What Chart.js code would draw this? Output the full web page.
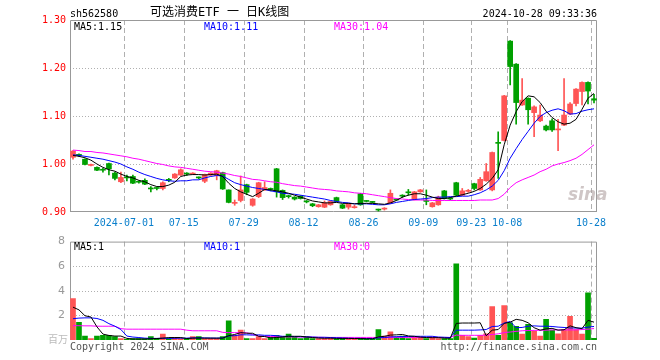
<!DOCTYPE html>
<html>
<head>
<meta charset="utf-8">
<script src="https://cdn.jsdelivr.net/npm/chart.js@4.4.1/dist/chart.umd.min.js"></script>
<style>
body{margin:0;background:#fff;}
#wrap{position:relative;width:660px;height:360px;overflow:hidden;background:#fff;}
canvas{position:absolute;left:0;}
.t{position:absolute;white-space:nowrap;font:10px "DejaVu Sans Mono",monospace;line-height:10px;color:#000;}
</style>
</head>
<body>
<div id="wrap">
<canvas id="k" width="660" height="230" style="top:0"></canvas>
<canvas id="v" width="660" height="130" style="top:230px"></canvas>
<div class="t" style="left:70px;top:8.5px">sh562580</div>
<div class="t" style="left:150px;top:6px;font-size:12px;line-height:12px;font-family:'DejaVu Sans Mono','Noto Sans CJK SC',sans-serif">可选消费ETF 一 日K线图</div>
<div class="t" style="right:63px;top:8.5px">2024-10-28 09:33:36</div>
<div class="t" style="left:74px;top:21.5px">MA5:1.15</div>
<div class="t" style="left:204px;top:21.5px;color:#0000ff">MA10:1.11</div>
<div class="t" style="left:334px;top:21.5px;color:#ff00ff">MA30:1.04</div>
<div class="t" style="left:74px;top:241.5px">MA5:1</div>
<div class="t" style="left:204px;top:241.5px;color:#0000ff">MA10:1</div>
<div class="t" style="left:334px;top:241.5px;color:#ff00ff">MA30:0</div>
<div class="t" style="left:48px;top:334px;color:#bbb;font-family:'Noto Sans CJK SC',sans-serif;font-size:10px">百万</div>
<div class="t" style="left:70px;top:341.5px;color:#555">Copyright 2024 SINA.COM</div>
<div class="t" style="right:63px;top:341.5px;color:#555">http://finance.sina.com.cn</div>
<div class="t" style="left:568px;top:186px;font:italic bold 17px 'DejaVu Sans',sans-serif;line-height:17px;color:rgba(175,160,160,0.6)">sina</div>
</div>
<script>
// trading days shown, oldest first
const dates = [
  '2024-06-18','2024-06-19','2024-06-20','2024-06-21','2024-06-24','2024-06-25','2024-06-26','2024-06-27','2024-06-28',
  '2024-07-01','2024-07-02','2024-07-03','2024-07-04','2024-07-05','2024-07-08','2024-07-09','2024-07-10','2024-07-11','2024-07-12',
  '2024-07-15','2024-07-16','2024-07-17','2024-07-18','2024-07-19','2024-07-22','2024-07-23','2024-07-24','2024-07-25','2024-07-26',
  '2024-07-29','2024-07-30','2024-07-31','2024-08-01','2024-08-02','2024-08-05','2024-08-06','2024-08-07','2024-08-08','2024-08-09',
  '2024-08-12','2024-08-13','2024-08-14','2024-08-15','2024-08-16','2024-08-19','2024-08-20','2024-08-21','2024-08-22','2024-08-23',
  '2024-08-26','2024-08-27','2024-08-28','2024-08-29','2024-08-30','2024-09-02','2024-09-03','2024-09-04','2024-09-05','2024-09-06',
  '2024-09-09','2024-09-10','2024-09-11','2024-09-12','2024-09-13','2024-09-18','2024-09-19','2024-09-20',
  '2024-09-23','2024-09-24','2024-09-25','2024-09-26','2024-09-27','2024-09-30',
  '2024-10-08','2024-10-09','2024-10-10','2024-10-11','2024-10-14','2024-10-15','2024-10-16','2024-10-17','2024-10-18',
  '2024-10-21','2024-10-22','2024-10-23','2024-10-24','2024-10-25','2024-10-28'
];

const open = [
  1.014,1.020,1.010,0.997,0.993,0.988,1.001,0.981,0.963,0.972,
  0.974,0.963,0.966,0.949,0.950,0.949,0.967,0.971,0.977,0.980,
  0.979,0.972,0.964,0.977,0.976,0.982,0.946,0.918,0.924,0.957,
  0.914,0.932,0.946,0.948,0.990,0.945,0.933,0.931,0.933,0.922,
  0.917,0.911,0.910,0.915,0.930,0.915,0.910,0.909,0.938,0.923,
  0.921,0.905,0.906,0.919,0.926,0.934,0.941,0.926,0.942,0.923,
  0.911,0.915,0.944,0.928,0.961,0.935,0.943,0.959,0.946,0.965,
  0.946,1.044,1.049,1.256,1.208,1.123,1.137,1.107,1.090,1.079,
  1.090,1.071,1.081,1.104,1.126,1.151,1.170,1.136
];
const close = [
  1.027,1.018,0.999,0.999,0.987,0.987,0.990,0.970,0.972,0.971,
  0.960,0.962,0.958,0.948,0.949,0.961,0.966,0.979,0.988,0.979,
  0.980,0.971,0.978,0.981,0.986,0.948,0.920,0.920,0.946,0.941,
  0.927,0.961,0.951,0.947,0.942,0.930,0.932,0.927,0.928,0.921,
  0.913,0.915,0.919,0.922,0.922,0.908,0.917,0.910,0.915,0.922,
  0.920,0.904,0.908,0.939,0.925,0.933,0.940,0.942,0.946,0.922,
  0.919,0.931,0.928,0.927,0.935,0.944,0.944,0.949,0.968,0.984,
  1.024,1.043,1.142,1.203,1.128,1.133,1.113,1.119,1.102,1.071,
  1.071,1.073,1.102,1.125,1.156,1.170,1.152,1.133
];
const high = [
  1.028,1.021,1.011,1.000,0.994,0.991,1.002,0.983,0.983,0.977,
  0.977,0.965,0.969,0.953,0.951,0.963,0.970,0.980,0.990,0.982,
  0.982,0.973,0.979,0.982,0.987,0.983,0.946,0.925,0.975,0.958,
  0.928,0.962,0.963,0.950,0.991,0.946,0.935,0.932,0.934,0.924,
  0.918,0.916,0.923,0.923,0.931,0.916,0.918,0.914,0.939,0.924,
  0.922,0.906,0.909,0.946,0.927,0.936,0.947,0.943,0.947,0.946,
  0.920,0.933,0.945,0.930,0.962,0.949,0.947,0.960,0.972,1.001,
  1.025,1.067,1.143,1.257,1.209,1.178,1.138,1.121,1.123,1.081,
  1.094,1.093,1.178,1.128,1.157,1.171,1.171,1.145
];
const low = [
  1.010,1.016,0.998,0.996,0.986,0.983,0.977,0.967,0.961,0.965,
  0.959,0.960,0.957,0.942,0.946,0.946,0.963,0.970,0.976,0.976,
  0.979,0.969,0.961,0.976,0.967,0.947,0.919,0.914,0.921,0.936,
  0.912,0.930,0.945,0.944,0.931,0.926,0.929,0.925,0.927,0.919,
  0.911,0.910,0.909,0.914,0.921,0.907,0.906,0.908,0.914,0.921,
  0.919,0.902,0.904,0.918,0.924,0.930,0.935,0.925,0.941,0.915,
  0.910,0.914,0.927,0.925,0.934,0.934,0.941,0.946,0.945,0.964,
  0.944,0.970,1.048,1.165,1.083,1.122,1.083,1.057,1.088,1.069,
  1.068,1.028,1.080,1.103,1.121,1.123,1.125,1.127
];

// moving average lines
const ma5 = [
  1.018,1.016,1.013,1.008,1.000,0.993,0.988,0.985,0.979,0.974,
  0.971,0.966,0.963,0.957,0.953,0.953,0.956,0.962,0.974,0.977,
  0.978,0.978,0.977,0.978,0.979,0.974,0.960,0.949,0.942,0.937,
  0.932,0.939,0.947,0.946,0.944,0.942,0.939,0.935,0.931,0.927,
  0.923,0.921,0.919,0.919,0.920,0.918,0.918,0.917,0.918,0.918,
  0.918,0.917,0.916,0.919,0.924,0.931,0.935,0.938,0.938,0.935,
  0.931,0.928,0.928,0.930,0.933,0.936,0.939,0.943,0.949,0.958,
  0.970,0.988,1.040,1.081,1.109,1.130,1.142,1.140,1.128,1.110,
  1.097,1.088,1.083,1.085,1.093,1.114,1.137,1.147
];
const ma10 = [
  1.019,1.018,1.016,1.014,1.012,1.010,1.007,1.004,1.000,0.994,
  0.989,0.983,0.978,0.974,0.970,0.967,0.965,0.964,0.965,0.965,
  0.967,0.967,0.971,0.974,0.976,0.975,0.968,0.961,0.957,0.954,
  0.951,0.949,0.947,0.944,0.942,0.939,0.938,0.937,0.935,0.933,
  0.931,0.929,0.927,0.924,0.922,0.920,0.919,0.917,0.917,0.917,
  0.916,0.915,0.915,0.917,0.920,0.922,0.924,0.926,0.927,0.928,
  0.930,0.931,0.931,0.932,0.932,0.933,0.933,0.936,0.940,0.946,
  0.954,0.966,0.986,1.012,1.032,1.051,1.068,1.085,1.099,1.107,
  1.112,1.115,1.111,1.104,1.105,1.110,1.113,1.115
];
const ma30 = [
  1.029,1.028,1.026,1.026,1.024,1.023,1.021,1.019,1.017,1.015,
  1.012,1.010,1.007,1.004,1.001,0.999,0.996,0.994,0.993,0.991,
  0.989,0.987,0.985,0.984,0.983,0.981,0.979,0.976,0.974,0.971,
  0.968,0.967,0.965,0.963,0.962,0.959,0.957,0.955,0.954,0.952,
  0.950,0.948,0.947,0.946,0.944,0.943,0.942,0.940,0.939,0.938,
  0.936,0.934,0.932,0.930,0.928,0.927,0.926,0.925,0.925,0.925,
  0.924,0.924,0.924,0.924,0.924,0.924,0.924,0.924,0.925,0.925,
  0.925,0.928,0.937,0.951,0.961,0.967,0.972,0.977,0.984,0.989,
  0.996,1.000,1.003,1.007,1.012,1.020,1.030,1.040
];

const volume = [
  3.36,1.44,0.32,0.11,0.32,0.37,0.37,0.27,0.11,0.05,
  0.11,0.11,0.11,0.27,0.11,0.48,0.11,0.20,0.11,0.11,
  0.27,0.27,0.11,0.11,0.11,0.27,1.55,0.37,0.80,0.11,
  0.11,0.27,0.11,0.24,0.37,0.27,0.48,0.24,0.11,0.24,
  0.11,0.11,0.11,0.20,0.10,0.15,0.10,0.08,0.15,0.08,
  0.08,0.85,0.32,0.67,0.24,0.32,0.11,0.24,0.24,0.11,
  0.24,0.11,0.11,0.11,6.20,0.37,0.27,0.15,0.37,0.50,
  2.72,0.37,2.80,1.39,1.12,0.48,1.28,0.72,0.32,1.68,
  0.80,0.51,0.85,1.92,0.85,0.48,3.84,0.13
];
const volMa5 = [
  2.67,2.45,1.97,1.87,1.07,0.48,0.37,0.32,0.32,0.13,
  0.08,0.08,0.08,0.10,0.12,0.15,0.20,0.20,0.20,0.12,
  0.15,0.16,0.15,0.15,0.15,0.15,0.35,0.45,0.60,0.55,
  0.55,0.30,0.28,0.17,0.20,0.25,0.30,0.30,0.30,0.25,
  0.20,0.16,0.14,0.15,0.13,0.13,0.13,0.12,0.12,0.10,
  0.10,0.25,0.30,0.40,0.42,0.45,0.33,0.30,0.23,0.20,
  0.19,0.19,0.16,0.14,1.35,1.38,1.38,1.38,1.40,0.35,
  0.80,0.85,1.35,1.45,1.68,1.60,1.40,1.00,0.80,0.90,
  0.95,0.80,0.83,1.15,1.00,0.92,1.60,1.45
];
const volMa10 = [
  1.73,1.78,1.80,1.80,1.75,1.60,1.33,1.12,0.85,0.32,
  0.24,0.20,0.15,0.13,0.13,0.14,0.13,0.14,0.15,0.15,
  0.17,0.18,0.17,0.16,0.15,0.17,0.33,0.35,0.42,0.42,
  0.40,0.42,0.38,0.38,0.35,0.30,0.30,0.28,0.27,0.26,
  0.24,0.22,0.22,0.20,0.18,0.16,0.14,0.13,0.13,0.12,
  0.11,0.18,0.20,0.25,0.27,0.28,0.28,0.30,0.30,0.30,
  0.30,0.24,0.22,0.20,0.80,0.80,0.80,0.80,0.82,0.85,
  1.10,1.12,1.38,1.50,1.00,1.02,1.12,1.15,1.12,1.12,
  1.10,1.05,1.02,0.98,0.97,0.96,1.05,1.10
];
const volMa30 = [
  1.17,1.16,1.15,1.15,1.12,1.12,1.12,1.12,0.92,0.88,
  0.88,0.88,0.88,0.88,0.88,0.88,0.88,0.88,0.88,0.80,
  0.75,0.75,0.75,0.75,0.75,0.62,0.60,0.60,0.59,0.59,
  0.45,0.32,0.30,0.28,0.27,0.26,0.25,0.25,0.24,0.24,
  0.23,0.22,0.21,0.21,0.21,0.21,0.21,0.21,0.21,0.21,
  0.21,0.21,0.21,0.21,0.21,0.21,0.21,0.21,0.21,0.21,
  0.21,0.21,0.21,0.21,0.40,0.38,0.38,0.38,0.38,0.40,
  0.45,0.50,0.60,0.65,0.70,0.75,0.77,0.78,0.79,0.80,
  0.82,0.82,0.82,0.82,0.82,0.85,0.88,0.93
];

const tickDates = ['2024-07-01','2024-07-15','2024-07-29','2024-08-12','2024-08-26','2024-09-09','2024-09-23','2024-10-08','2024-10-28'];
const priceTicks = [0.9, 1.0, 1.1, 1.2, 1.3];
const volTicks = [0, 2, 4, 6, 8];

const UP = '#ff5555', DOWN = '#00a000';
const colors = close.map((c, i) => c >= open[i] ? UP : DOWN);
const tickIdx = tickDates.map(d => dates.indexOf(d));

// dotted / dashed grid and grey frame, drawn under the marks
const sinaGrid = {
  id: 'sinaGrid',
  beforeDatasetsDraw(chart, args, opts) {
    const ctx = chart.ctx, a = chart.chartArea;
    const x = chart.scales.x, y = chart.scales.y;
    const half = a.width / dates.length / 2;
    ctx.save();
    ctx.lineWidth = 1;
    ctx.strokeStyle = '#b0b0b0';
    ctx.setLineDash([1, 2]);
    opts.hLines.forEach(v => {
      const py = Math.round(y.getPixelForValue(v)) + 0.5;
      ctx.beginPath(); ctx.moveTo(a.left, py); ctx.lineTo(a.right, py); ctx.stroke();
    });
    ctx.setLineDash([5, 3]);
    tickIdx.forEach(i => {
      const px = Math.round(x.getPixelForValue(i) - half) + 0.5;
      ctx.beginPath(); ctx.moveTo(px, a.top); ctx.lineTo(px, a.bottom); ctx.stroke();
    });
    ctx.setLineDash([]);
    ctx.strokeStyle = '#999';
    ctx.beginPath();
    ctx.moveTo(a.left + 0.5, a.bottom); ctx.lineTo(a.left + 0.5, a.top + 0.5);
    ctx.lineTo(a.right - 0.5, a.top + 0.5); ctx.lineTo(a.right - 0.5, a.bottom);
    if (opts.bottom) { ctx.moveTo(a.left, a.bottom - 0.5); ctx.lineTo(a.right, a.bottom - 0.5); }
    ctx.stroke();
    ctx.restore();
  }
};

const lineSet = (data, color) => ({
  type: 'line', data, borderColor: color, borderWidth: 1,
  pointRadius: 0, tension: 0, fill: false, order: 0
});

new Chart(document.getElementById('k'), {
  type: 'bar',
  data: {
    labels: dates,
    datasets: [
      { data: low.map((l, i) => [l, high[i]]), backgroundColor: colors, barThickness: 1, grouped: false, order: 2 },
      { data: open.map((o, i) => [o, close[i]]), backgroundColor: colors, barThickness: 5, minBarLength: 1, grouped: false, order: 1 },
      lineSet(ma5, '#000000'),
      lineSet(ma10, '#0000ff'),
      lineSet(ma30, '#ff00ff')
    ]
  },
  options: {
    responsive: false,
    animation: false,
    layout: { padding: { left: 0, right: 63, top: 20, bottom: 0 } },
    plugins: { legend: { display: false }, tooltip: { enabled: false }, sinaGrid: { hLines: [1.0, 1.1, 1.2], bottom: true } },
    scales: {
      x: {
        type: 'category', offset: true,
        grid: { display: false, drawTicks: false }, border: { display: false },
        afterFit: s => { s.height = 18; },
        ticks: {
          autoSkip: false, maxRotation: 0, minRotation: 0, padding: 5, labelOffset: -3,
          color: '#0a7fcc', font: { family: 'DejaVu Sans Mono', size: 10 },
          callback: (v, i) => !tickIdx.includes(i) ? '' : (i === tickIdx[0] ? dates[i] : dates[i].slice(5))
        }
      },
      y: {
        min: 0.9, max: 1.3,
        grid: { display: false, drawTicks: false }, border: { display: false },
        afterFit: s => { s.width = 70; },
        afterBuildTicks: s => { s.ticks = priceTicks.map(v => ({ value: v })); },
        ticks: {
          padding: 4, color: '#ff0000', font: { family: 'DejaVu Sans Mono', size: 10 },
          callback: v => Number(v).toFixed(2)
        }
      }
    }
  },
  plugins: [sinaGrid]
});

new Chart(document.getElementById('v'), {
  type: 'bar',
  data: {
    labels: dates,
    datasets: [
      { data: volume, backgroundColor: colors, barThickness: 5, grouped: false, order: 1 },
      lineSet(volMa5, '#000000'),
      lineSet(volMa10, '#0000ff'),
      lineSet(volMa30, '#ff00ff')
    ]
  },
  options: {
    responsive: false,
    animation: false,
    layout: { padding: { left: 0, right: 63, top: 10, bottom: 20 } },
    plugins: { legend: { display: false }, tooltip: { enabled: false }, sinaGrid: { hLines: [2, 4, 6], bottom: false } },
    scales: {
      x: { type: 'category', offset: true, display: false },
      y: {
        min: 0, max: 8,
        grid: { display: false, drawTicks: false }, border: { display: false },
        afterFit: s => { s.width = 70; },
        afterBuildTicks: s => { s.ticks = volTicks.map(v => ({ value: v })); },
        ticks: {
          padding: 5, color: '#999', font: { family: 'DejaVu Sans', size: 11 },
          callback: v => v === 0 ? '' : String(v)
        }
      }
    }
  },
  plugins: [sinaGrid]
});
</script>
</body>
</html>
